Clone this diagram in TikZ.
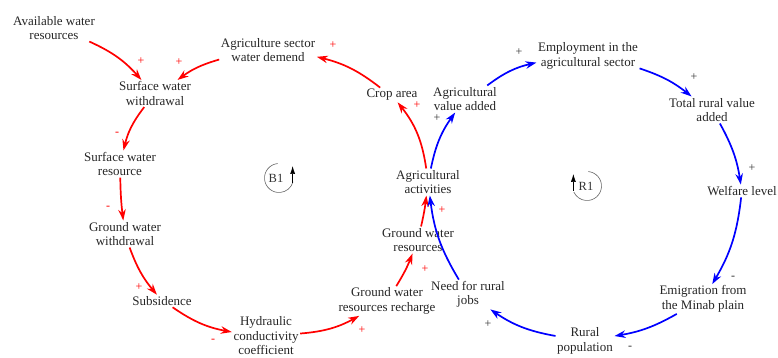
\documentclass[tikz,border=0pt]{standalone}
\usepackage{fontspec}
\setmainfont{Liberation Serif}
\usetikzlibrary{arrows.meta}
\definecolor{cldred}{RGB}{255,0,0}
\definecolor{cldblue}{RGB}{0,0,255}
\tikzset{
  var/.style={font=\fontsize{13}{14.5}\selectfont, align=center, inner sep=1.5pt, text=black!85},
  redarr/.style={draw=cldred, line width=1.7pt, -{Stealth[length=11pt,width=7.5pt]}},
  bluearr/.style={draw=cldblue, line width=1.7pt, -{Stealth[length=11pt,width=7.5pt]}},
  polred/.style={font=\fontsize{12}{12}\selectfont, text=cldred, inner sep=0pt},
  polblk/.style={font=\fontsize{12}{12}\selectfont, text=black!80, inner sep=0pt},
  loopname/.style={font=\fontsize{12.5}{12.5}\selectfont, text=black!80, inner sep=0pt},
  looparc/.style={draw=black!60, line width=0.6pt},
  looptip/.style={draw=black, line width=0.6pt, -{Latex[length=8pt,width=5pt]}}
}
\begin{document}
\begin{tikzpicture}[x=1pt,y=1pt]
\useasboundingbox (0,0) rectangle (778,357);
% variables
\node[var] (avail) at (54,329) {Available water\\resources};
\node[var] (sww) at (155,263.5) {Surface water\\withdrawal};
\node[var] (swr) at (120,193) {Surface water\\resource};
\node[var] (gww) at (125,123) {Ground water\\withdrawal};
\node[var] (subs) at (162,56) {Subsidence};
\node[var] (hyd) at (266,21) {Hydraulic\\conductivity\\coefficient};
\node[var] (gwr) at (387,56) {Ground water\\resources recharge};
\node[var] (gwres) at (418,117) {Ground water\\resources};
\node[var] (agact) at (428,175) {Agricultural\\activities};
\node[var] (need) at (468,62.5) {Need for rural\\jobs};
\node[var] (crop) at (392,262) {Crop area};
\node[var] (demand) at (268,307) {Agriculture sector\\water demend};
\node[var] (agva) at (465,258) {Agricultural\\value added};
\node[var] (emp) at (588,301) {Employment in the\\agricultural sector};
\node[var] (trva) at (712,247) {Total rural value\\added};
\node[var] (welf) at (742,166) {Welfare level};
\node[var] (emig) at (703,58) {Emigration from\\the Minab plain};
\node[var] (rural) at (585,16) {Rural\\population};
% red loop B1
\draw[redarr] (avail) to[bend left=12] (sww);
\draw[redarr] (demand) to[bend right=10] (sww);
\draw[redarr] (sww) to[bend right=12] (swr);
\draw[redarr] (swr) to[bend right=3] (gww);
\draw[redarr] (gww) to[bend right=10] (subs);
\draw[redarr] (subs) to[bend right=12] (hyd);
\draw[redarr] (hyd) to[bend right=12] (gwr);
\draw[redarr] (gwr) to[bend right=5] (gwres);
\draw[redarr] (gwres) to[bend right=3] (agact);
\draw[redarr] (agact) to[bend right=15] (crop);
\draw[redarr] (crop) to[bend right=12] (demand);
% blue loop R1
\draw[bluearr] (need) to[bend left=12] (agact);
\draw[bluearr] (agact) to[bend left=12] (agva);
\draw[bluearr] (agva) to[bend left=12] (emp);
\draw[bluearr] (emp) to[bend left=10] (trva);
\draw[bluearr] (trva) to[bend left=10] (welf);
\draw[bluearr] (welf) to[bend left=12] (emig);
\draw[bluearr] (emig) to[bend left=10] (rural);
\draw[bluearr] (rural) to[bend left=12] (need);
% polarities
\node[polred] (p1) at (141,296) {+};
\node[polred] (p2) at (179,295) {+};
\node[polred] (p3) at (117,223) {-};
\node[polred] (p4) at (108,149) {-};
\node[polred] (p5) at (139,70) {+};
\node[polred] (p6) at (213,16) {-};
\node[polred] (p7) at (362,27) {+};
\node[polred] (p8) at (425,88) {+};
\node[polred] (p9) at (442,147) {+};
\node[polred] (p10) at (417,252) {+};
\node[polred] (p11) at (333,312) {+};
\node[polblk] (p13) at (437,239) {+};
\node[polblk] (p14) at (519,305) {+};
\node[polblk] (p15) at (694,280) {+};
\node[polblk] (p16) at (752,189) {+};
\node[polblk] (p17) at (733,79) {-};
\node[polblk] (p18) at (630,9) {-};
\node[polblk] (p19) at (488,33) {+};
% loop markers
\coordinate (bc) at (279,179);
\node[loopname] (b1) at (276,179) {B1};
\draw[looparc] (bc) ++(95:14.5) arc (95:345:14.5);
\draw[looptip] (bc) ++(-20:14.5) coordinate (bt0) -- ++(0,17) coordinate (bt1);
\coordinate (rc) at (587,171);
\node[loopname] (r1) at (586,171) {R1};
\draw[looparc] (rc) ++(85:14.5) arc (85:-155:14.5);
\draw[looptip] (rc) ++(200:14.5) coordinate (rt0) -- ++(0,17) coordinate (rt1);
\end{tikzpicture}
\end{document}
